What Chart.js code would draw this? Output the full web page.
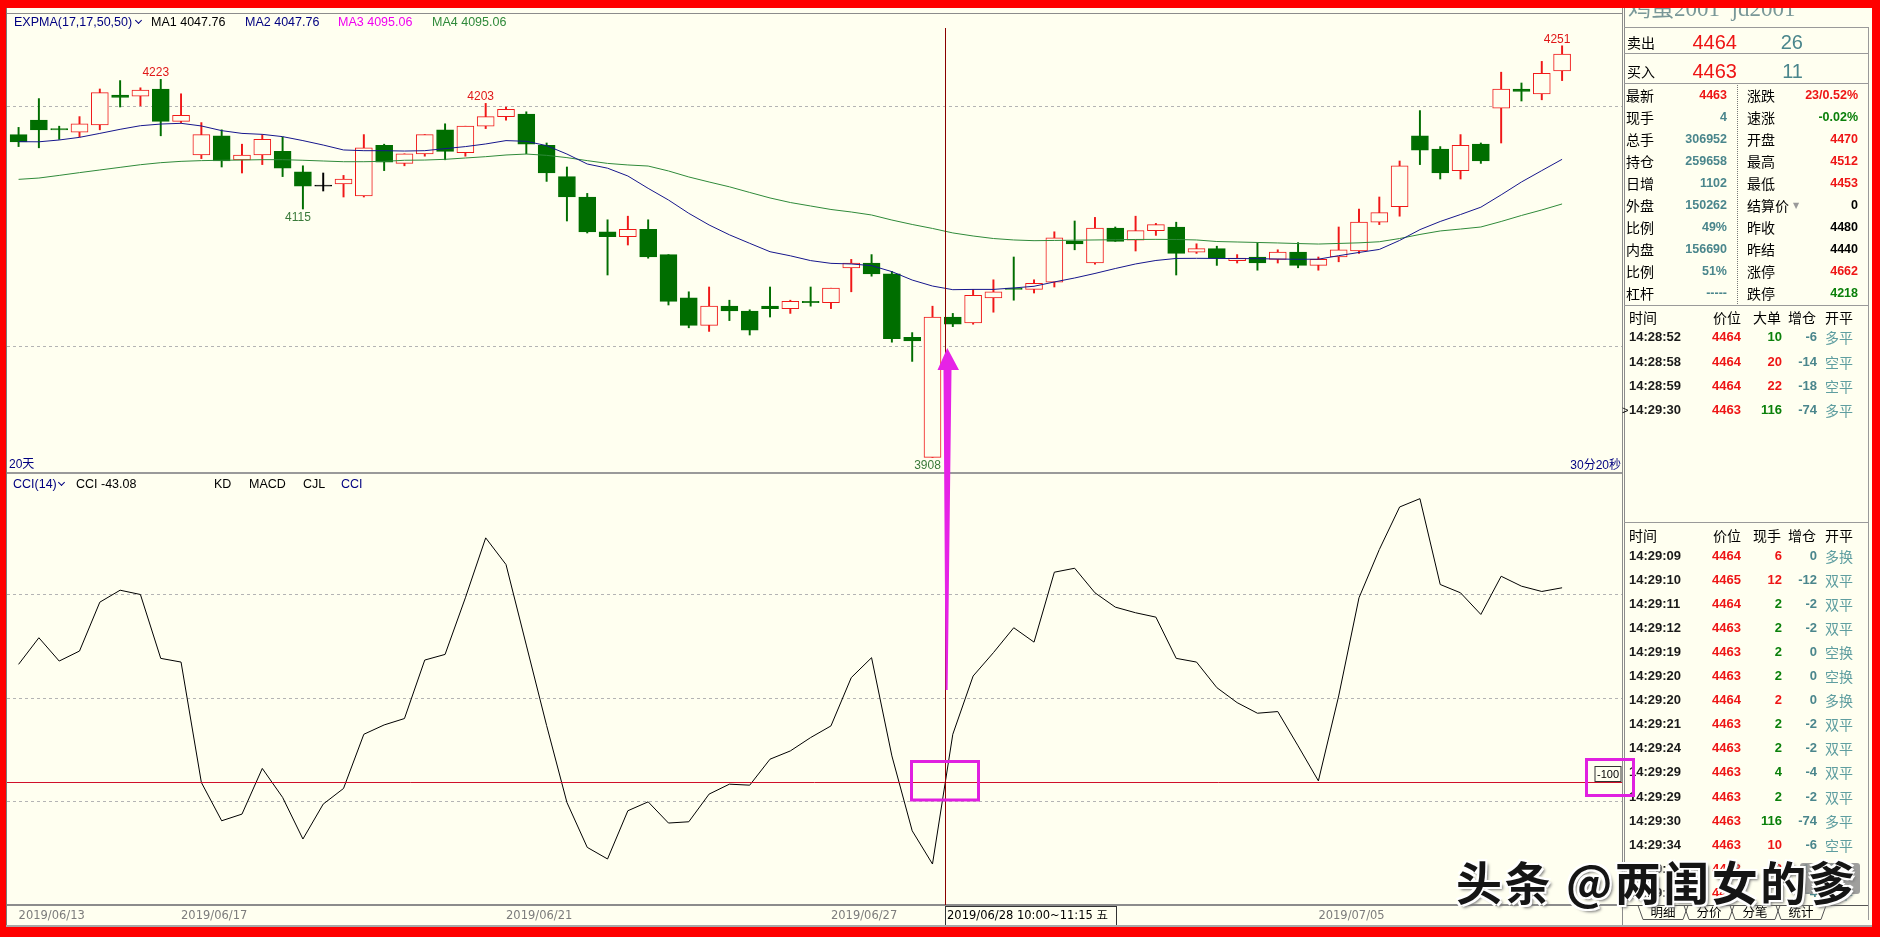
<!DOCTYPE html>
<html>
<head>
<meta charset="utf-8">
<title>鸡蛋2001 jd2001 60分钟 CCI</title>
<script src="https://cdn.jsdelivr.net/npm/chart.js@4.4.1/dist/chart.umd.min.js"></script>
<style>
  html, body { margin: 0; padding: 0; }
  body {
    width: 1880px; height: 937px; position: relative; overflow: hidden;
    background: #fffff0; font-family: "Liberation Sans", Arial, sans-serif;
  }
  canvas { position: absolute; }
  #price { left: 7px; top: 13px; }
  #cci { left: 7px; top: 473px; }
  .t { position: absolute; white-space: nowrap; }
  .ln { position: absolute; background: #8c8c8c; }
  .chev { position: absolute; width: 4px; height: 4px; border-right: 1.3px solid #000080; border-bottom: 1.3px solid #000080; transform: rotate(45deg); }
  .frame { position: absolute; background: #ff0000; z-index: 50; }
  #wm {
    position: absolute; left: 1456px; top: 850px; z-index: 30;
    font: bold 46px "Noto Sans CJK SC", sans-serif; line-height: 60px; color: #151515;
    letter-spacing: 2.5px;
    text-shadow: -2px -2px 0 #fff, 2px -2px 0 #fff, -2px 2px 0 #fff, 2px 2px 0 #fff, 3px 3px 3px #777;
    white-space: nowrap;
  }
  #wmbox { position: absolute; left: 1800px; top: 863px; width: 60px; height: 31px; background: #8e8e8e; opacity: 0.85; border-radius: 3px; z-index: 29; }
</style>
</head>
<body>
<canvas id="price" width="1615" height="460"></canvas>
<canvas id="cci" width="1615" height="452"></canvas>
<div id="ui"></div>

<svg style="position:absolute;left:0;top:0;z-index:20" width="1880" height="937">
  <g fill="none" stroke="#e020e0" stroke-width="3">
    <rect x="911.5" y="761.5" width="67" height="38.5"></rect>
    <rect x="1586.5" y="759.5" width="47" height="36"></rect>
  </g>
  <polygon fill="#e622e6" points="947.3,348 959,370 951.5,370 947.6,690 945.6,690 943.5,370 937.5,370"></polygon>
</svg>

<div id="wmbox"></div>
<div id="wm">头条 @两闺女的爹</div>

<div class="frame" style="left:0;top:0;width:1880px;height:8px"></div>
<div class="frame" style="left:0;top:0;width:6px;height:937px"></div>
<div class="frame" style="left:1872px;top:0;width:8px;height:937px"></div>
<div class="frame" style="left:0;top:927px;width:1880px;height:10px"></div>

<script>
// 鸡蛋2001 (jd2001) 60分钟K线, 2019/06/13 - 2019/07/10

const opens  = [4177, 4189, 4182, 4179, 4185, 4210, 4209, 4215, 4188, 4160,
                4176, 4156, 4160, 4163, 4146, 4134, 4136, 4126, 4168, 4153,
                4161, 4181, 4162, 4184, 4192, 4194, 4168, 4142, 4125, 4096,
                4092, 4098, 4077, 4041, 4018, 4034, 4030, 4034, 4032, 4038,
                4037, 4066, 4070, 4061, 4008, 3908, 4025, 4020, 4041, 4049,
                4048, 4054, 4088, 4070, 4099, 4089, 4097, 4100, 4079, 4082,
                4072, 4075, 4073, 4079, 4068, 4075, 4080, 4104, 4117, 4176,
                4165, 4147, 4169, 4199, 4215, 4211, 4230];
const highs  = [4183, 4207, 4184, 4192, 4215, 4222, 4216, 4223, 4211, 4187,
                4181, 4169, 4177, 4175, 4151, 4145, 4143, 4177, 4169, 4161,
                4177, 4186, 4184, 4203, 4200, 4196, 4170, 4150, 4128, 4106,
                4109, 4106, 4077, 4046, 4050, 4039, 4031, 4050, 4039, 4050,
                4049, 4073, 4077, 4063, 4012, 4034, 4028, 4048, 4056, 4075,
                4056, 4096, 4105, 4108, 4100, 4109, 4103, 4104, 4086, 4084,
                4077, 4087, 4081, 4087, 4075, 4100, 4115, 4125, 4155, 4197,
                4167, 4177, 4170, 4229, 4220, 4238, 4251];
const lows   = [4167, 4166, 4173, 4175, 4181, 4200, 4201, 4176, 4187, 4157,
                4150, 4145, 4152, 4142, 4115, 4130, 4125, 4125, 4147, 4151,
                4159, 4156, 4159, 4182, 4189, 4161, 4138, 4105, 4095, 4060,
                4085, 4074, 4035, 4016, 4013, 4022, 4010, 4025, 4028, 4034,
                4032, 4046, 4059, 4004, 3988, 3908, 4017, 4019, 4029, 4039,
                4045, 4050, 4081, 4069, 4088, 4080, 4093, 4060, 4078, 4068,
                4070, 4064, 4070, 4066, 4064, 4071, 4078, 4102, 4109, 4152,
                4140, 4140, 4153, 4170, 4205, 4206, 4222];
const closes = [4171, 4181, 4181, 4186, 4212, 4208, 4214, 4188, 4193, 4177,
                4155, 4160, 4173, 4149, 4134, 4134, 4140, 4166, 4154, 4161,
                4177, 4163, 4184, 4192, 4198, 4169, 4145, 4125, 4096, 4092,
                4098, 4075, 4038, 4018, 4034, 4030, 4014, 4032, 4038, 4037,
                4049, 4070, 4061, 4007, 4005, 4025, 4019, 4043, 4046, 4048,
                4053, 4091, 4086, 4099, 4088, 4097, 4102, 4078, 4082, 4074,
                4074, 4070, 4079, 4068, 4073, 4081, 4104, 4112, 4151, 4164,
                4145, 4168, 4155, 4215, 4213, 4228, 4244];

// EXPMA(17) (MA1/MA2) and EXPMA(50) (MA3/MA4)
const expma17 = [4171.1, 4171.0, 4172.5, 4174.7, 4178.0, 4181.4, 4184.4, 4185.8, 4186.4, 4184.2,
                 4180.3, 4178.0, 4177.2, 4175.3, 4172.0, 4168.3, 4164.2, 4163.6, 4163.6, 4163.3,
                 4163.6, 4165.3, 4167.0, 4169.2, 4172.0, 4171.4, 4167.8, 4160.8, 4152.5, 4149.0,
                 4142.5, 4132.2, 4122.5, 4111.4, 4101.7, 4093.5, 4086.4, 4079.4, 4076.0, 4072.0,
                 4069.7, 4069.2, 4067.8, 4062.8, 4055.8, 4050.8, 4047.76, 4048.0, 4048.0, 4049.2,
                 4050.6, 4054.2, 4057.5, 4061.3, 4065.4, 4069.2, 4072.1, 4073.8, 4073.9, 4073.8,
                 4073.7, 4073.6, 4073.3, 4073.1, 4073.2, 4076.1, 4078.8, 4081.3, 4088.8, 4097.8,
                 4104.6, 4110.4, 4116.5, 4126.8, 4137.5, 4147.0, 4156.4];
const expma50 = [4139.7, 4140.8, 4143.0, 4145.3, 4147.5, 4149.7, 4151.9, 4153.6, 4154.7, 4155.3,
                 4155.6, 4155.8, 4156.1, 4156.1, 4155.6, 4155.0, 4154.4, 4154.4, 4154.7, 4155.6,
                 4155.8, 4156.4, 4157.5, 4158.6, 4160.0, 4160.8, 4159.7, 4157.8, 4155.3, 4153.0,
                 4151.7, 4150.8, 4146.7, 4141.7, 4137.5, 4133.5, 4128.8, 4124.2, 4120.4, 4117.5,
                 4114.6, 4112.5, 4110.0, 4105.8, 4102.1, 4098.8, 4095.06, 4092.5, 4090.4, 4089.2,
                 4088.6, 4088.8, 4089.0, 4089.2, 4089.4, 4089.6, 4089.7, 4089.6, 4089.2, 4087.9,
                 4087.5, 4087.1, 4086.7, 4086.2, 4085.8, 4086.3, 4086.8, 4087.7, 4090.4, 4093.8,
                 4096.7, 4098.3, 4100.0, 4104.6, 4109.6, 4114.2, 4119.2];

// CCI(14)
const cci14 = [40.0, 71.6, 43.9, 55.8, 113.9, 128.1, 123.0, 47.1, 42.7, -100.4,
               -145.9, -138.0, -83.7, -118.1, -167.6, -126.1, -107.5, -43.1, -32.0, -24.4,
               45.1, 51.8, 119.1, 190.3, 158.6, 62.9, -32.7, -124.1, -177.5, -191.3,
               -134.0, -123.4, -148.6, -147.1, -114.2, -102.4, -103.6, -72.7, -62.9, -47.0,
               -33.2, 24.2, 47.9, -68.8, -157.8, -197.3, -43.08, 26.1, 53.9, 83.5,
               66.4, 149.5, 154.2, 125.0, 108.0, 101.3, 96.1, 47.1, 42.7, 12.3,
               -5.5, -18.1, -16.1, -56.9, -98.5, 2.4, 119.1, 176.4, 227.0, 236.9,
               134.9, 125.0, 99.3, 144.7, 132.9, 126.6, 131.0];

// time axis labels (first bar of the day)
const dayStart  = [0, 8, 24, 40, 64];
const dayLabels = ['2019/06/13', '2019/06/17', '2019/06/21', '2019/06/27', '2019/07/05'];

// price lines and marked extremes
const priceGrid = [4000, 4200];
const highMarks = [7, 23, 76];
const lowMarks  = [14, 45];

// crosshair
const crossAt = 45.6;
const crossLabel = '2019/06/28 10:00~11:15 五';
const crossCci = -100;

// right panel
const quoteRows = [
  ['最新', '4463', 'r', '涨跌', '23/0.52%', 'r'],
  ['现手', '4', 't', '速涨', '-0.02%', 'g'],
  ['总手', '306952', 't', '开盘', '4470', 'r'],
  ['持仓', '259658', 't', '最高', '4512', 'r'],
  ['日增', '1102', 't', '最低', '4453', 'r'],
  ['外盘', '150262', 't', '结算价', '0', 'k'],
  ['比例', '49%', 't', '昨收', '4480', 'k'],
  ['内盘', '156690', 't', '昨结', '4440', 'k'],
  ['比例', '51%', 't', '涨停', '4662', 'r'],
  ['杠杆', '-----', 't', '跌停', '4218', 'g']
];
const bigOrders = [
  ['14:28:52', '4464', '10', 'g', '-6', '多平'],
  ['14:28:58', '4464', '20', 'r', '-14', '空平'],
  ['14:28:59', '4464', '22', 'r', '-18', '空平'],
  ['14:29:30', '4463', '116', 'g', '-74', '多平']
];
const tickRows = [
  ['14:29:09', '4464', '6', 'r', '0', '多换'],
  ['14:29:10', '4465', '12', 'r', '-12', '双平'],
  ['14:29:11', '4464', '2', 'g', '-2', '双平'],
  ['14:29:12', '4463', '2', 'g', '-2', '双平'],
  ['14:29:19', '4463', '2', 'g', '0', '空换'],
  ['14:29:20', '4463', '2', 'g', '0', '空换'],
  ['14:29:20', '4464', '2', 'r', '0', '多换'],
  ['14:29:21', '4463', '2', 'g', '-2', '双平'],
  ['14:29:24', '4463', '2', 'g', '-2', '双平'],
  ['14:29:29', '4463', '4', 'g', '-4', '双平'],
  ['14:29:29', '4463', '2', 'g', '-2', '双平'],
  ['14:29:30', '4463', '116', 'g', '-74', '多平'],
  ['14:29:34', '4463', '10', 'r', '-6', '空平'],
  ['14:29:34', '4463', '22', 'r', '-18', '空平'],
  ['14:29:38', '4463', '4', 'r', '-4', '双平']
];
const tabNames = ['明细', '分价', '分笔', '统计'];

const BG = '#fffff0';
const UP = '#f01818';
const DOWN = '#006e00';
const FLAT = '#000000';
const SANS = '"Liberation Sans", Arial, sans-serif';
const CJK = '"Noto Sans CJK SC", sans-serif';
const MIX = '"Liberation Sans", "Noto Sans CJK SC", sans-serif';
const COLORS = { r: '#ee1515', g: '#0a800a', t: '#4a868c', k: '#000000' };

const X_MIN = -0.57, X_MAX = 78.95;
const CCI_RANGE = 246;
const crossIdx = Math.round(crossAt);
const idx = closes.map((_, i) => i);

Chart.defaults.font.family = SANS;

function candleColor(i) {
  if (closes[i] > opens[i]) return UP;
  if (closes[i] < opens[i]) return DOWN;
  return FLAT;
}

// ---- price panel ----
const priceMarks = {
  id: 'priceMarks',
  afterDatasetsDraw(chart) {
    const { ctx, chartArea, scales: { x, y } } = chart;
    ctx.save();
    ctx.font = '12px ' + SANS;
    ctx.textAlign = 'center';
    ctx.textBaseline = 'alphabetic';
    ctx.fillStyle = '#e01818';
    highMarks.forEach(i => {
      ctx.fillText(String(highs[i]), x.getPixelForValue(i) - 5, y.getPixelForValue(highs[i]) - 3);
    });
    ctx.fillStyle = '#3a7a3a';
    lowMarks.forEach(i => {
      ctx.fillText(String(lows[i]), x.getPixelForValue(i) - 5, y.getPixelForValue(lows[i]) + 12);
    });
    const cx = Math.round(x.getPixelForValue(crossAt)) + 0.5;
    ctx.strokeStyle = '#8a0000';
    ctx.lineWidth = 1;
    ctx.beginPath();
    ctx.moveTo(cx, 15);
    ctx.lineTo(cx, chartArea.bottom);
    ctx.stroke();
    ctx.restore();
  }
};

new Chart(document.getElementById('price'), {
  data: {
    datasets: [
      {
        type: 'bar',
        label: 'wick',
        data: idx.map(i => ({ x: i, y: [lows[i], highs[i]] })),
        backgroundColor: ctx => candleColor(ctx.dataIndex),
        borderWidth: 0,
        barThickness: 1.3,
        grouped: false,
        order: 3
      },
      {
        type: 'bar',
        label: 'body',
        data: idx.map(i => ({ x: i, y: [opens[i], closes[i]] })),
        backgroundColor: ctx => closes[ctx.dataIndex] > opens[ctx.dataIndex] ? BG : candleColor(ctx.dataIndex),
        borderColor: ctx => candleColor(ctx.dataIndex),
        borderWidth: 1,
        borderSkipped: false,
        barThickness: 17,
        minBarLength: 1,
        grouped: false,
        order: 2
      },
      {
        type: 'line',
        label: 'MA1',
        data: idx.map(i => ({ x: i, y: expma17[i] })),
        borderColor: '#16168c',
        borderWidth: 1,
        pointRadius: 0,
        tension: 0,
        order: 1
      },
      {
        type: 'line',
        label: 'MA3',
        data: idx.map(i => ({ x: i, y: expma50[i] })),
        borderColor: '#2f8a3a',
        borderWidth: 1,
        pointRadius: 0,
        tension: 0,
        order: 1
      }
    ]
  },
  options: {
    responsive: false,
    animation: false,
    events: [],
    layout: { padding: 0 },
    plugins: { legend: { display: false }, tooltip: { enabled: false } },
    scales: {
      x: { type: 'linear', min: X_MIN, max: X_MAX, offset: false, grid: { offset: false }, display: false },
      y: {
        min: 3895, max: 4278.33,
        ticks: { display: false },
        grid: { color: '#b4b4b4', drawTicks: false },
        border: { display: false, dash: [3, 3] },
        afterBuildTicks: s => { s.ticks = priceGrid.map(v => ({ value: v })); },
        afterFit: s => { s.width = 0; }
      }
    }
  },
  plugins: [priceMarks]
});

// ---- CCI panel ----
const cciMarks = {
  id: 'cciMarks',
  afterDatasetsDraw(chart) {
    const { ctx, chartArea: a, scales: { x, y } } = chart;
    const cx = Math.round(x.getPixelForValue(crossAt)) + 0.5;
    const hy = Math.round(y.getPixelForValue(crossCci)) + 0.5;
    ctx.save();
    ctx.lineWidth = 1;
    ctx.strokeStyle = '#d0102a';
    ctx.beginPath();
    ctx.moveTo(a.left, hy);
    ctx.lineTo(a.right, hy);
    ctx.stroke();
    ctx.strokeStyle = '#8a0000';
    ctx.beginPath();
    ctx.moveTo(cx, 0);
    ctx.lineTo(cx, a.bottom);
    ctx.stroke();
    // value tag at the right end of the cross line
    ctx.fillStyle = BG;
    ctx.fillRect(a.right - 27, hy - 16, 26, 15);
    ctx.strokeStyle = '#333';
    ctx.strokeRect(a.right - 27, hy - 16, 26, 15);
    ctx.fillStyle = '#000';
    ctx.font = '11px ' + SANS;
    ctx.textAlign = 'center';
    ctx.textBaseline = 'middle';
    ctx.fillText(String(crossCci), a.right - 14, hy - 8);
    ctx.restore();
  },
  afterDraw(chart) {
    const { ctx, chartArea: a, scales: { x } } = chart;
    const cx = Math.round(x.getPixelForValue(crossAt)) + 0.5;
    ctx.save();
    ctx.fillStyle = BG;
    ctx.fillRect(cx, a.bottom + 1, 171, 19);
    ctx.strokeStyle = '#333';
    ctx.lineWidth = 1;
    ctx.strokeRect(cx, a.bottom + 1.5, 171, 19);
    ctx.fillStyle = '#000';
    ctx.font = '11.5px "DejaVu Sans", "Noto Sans CJK SC", sans-serif';
    ctx.textBaseline = 'middle';
    ctx.fillText(crossLabel, cx + 1.5, a.bottom + 11);
    ctx.restore();
  }
};

new Chart(document.getElementById('cci'), {
  type: 'line',
  data: {
    datasets: [{
      label: 'CCI',
      data: idx.map(i => ({ x: i, y: cci14[i] })),
      borderColor: '#000',
      borderWidth: 1,
      pointRadius: 0,
      tension: 0
    }]
  },
  options: {
    responsive: false,
    animation: false,
    events: [],
    layout: { padding: { top: 18, left: 0, right: 0, bottom: 0 } },
    plugins: { legend: { display: false }, tooltip: { enabled: false } },
    scales: {
      x: {
        type: 'linear', min: X_MIN, max: X_MAX, position: 'bottom', offset: false,
        grid: { display: false, drawTicks: false },
        border: { display: true, color: '#8c8c8c', width: 2 },
        ticks: {
          align: 'start', autoSkip: false, maxRotation: 0, padding: 4,
          color: '#7c7c7c',
          font: { family: '"DejaVu Sans", sans-serif', size: 11.5 },
          callback: v => {
            const k = dayStart.indexOf(v);
            return k >= 0 ? dayLabels[k] : '';
          }
        },
        afterBuildTicks: s => { s.ticks = dayStart.map(v => ({ value: v })); },
        afterFit: s => { s.height = 20; }
      },
      y: {
        min: -CCI_RANGE, max: CCI_RANGE,
        ticks: { display: false },
        grid: { color: '#b4b4b4', drawTicks: false },
        border: { display: false, dash: [3, 3] },
        afterBuildTicks: s => { s.ticks = [s.max / 2, 0, s.min / 2].map(v => ({ value: v })); },
        afterFit: s => { s.width = 0; }
      }
    }
  },
  plugins: [cciMarks]
});

// ---- text and frame lines ----
const ui = document.getElementById('ui');

function txt(s, x, y, opt) {
  opt = opt || {};
  const size = opt.size || 12;
  const h = Math.round(size * 1.4);
  const el = document.createElement('div');
  el.className = 't';
  el.textContent = s;
  el.style.font = (opt.weight || 'normal') + ' ' + size + 'px ' + (opt.family || MIX);
  el.style.lineHeight = h + 'px';
  el.style.top = (y - h / 2) + 'px';
  if (opt.align === 'right') el.style.right = (1880 - x) + 'px';
  else el.style.left = x + 'px';
  el.style.color = opt.color || '#000';
  ui.appendChild(el);
  return el;
}

function line(x, y, w, h, color) {
  const el = document.createElement('div');
  el.className = 'ln';
  el.style.left = x + 'px';
  el.style.top = y + 'px';
  el.style.width = w + 'px';
  el.style.height = h + 'px';
  if (color) el.style.background = color;
  ui.appendChild(el);
}

function chevron(x, y) {
  const el = document.createElement('div');
  el.className = 'chev';
  el.style.left = x + 'px';
  el.style.top = y + 'px';
  ui.appendChild(el);
}

// chart frame
line(6, 8, 1, 917, '#7a7a7a');
line(7, 13, 1616, 1, '#8c8c8c');
line(7, 472, 1616, 2, '#9a9a9a');
line(1622, 8, 1, 917, '#8c8c8c');
line(6, 925, 1866, 2, '#a8a8a8');

// price header
const hdrSize = 12.5;
txt('EXPMA(17,17,50,50)', 14, 22, { color: '#000080', size: hdrSize, family: SANS });
chevron(136, 18);
txt('MA1 ' + expma17[crossIdx].toFixed(2), 151, 22, { color: '#000', size: hdrSize, family: SANS });
txt('MA2 ' + expma17[crossIdx].toFixed(2), 245, 22, { color: '#000080', size: hdrSize, family: SANS });
txt('MA3 ' + expma50[crossIdx].toFixed(2), 338, 22, { color: '#f000f0', size: hdrSize, family: SANS });
txt('MA4 ' + expma50[crossIdx].toFixed(2), 432, 22, { color: '#2f8a3a', size: hdrSize, family: SANS });
txt('20天', 9, 464, { color: '#000080', size: 12 });
txt('30分20秒', 1621, 465, { color: '#000080', size: 12, align: 'right' });

// CCI header
txt('CCI(14)', 13, 484, { color: '#000080', size: hdrSize, family: SANS });
chevron(59, 480);
txt('CCI ' + cci14[crossIdx].toFixed(2), 76, 484, { size: hdrSize, family: SANS });
txt('KD', 214, 484, { size: hdrSize, family: SANS });
txt('MACD', 249, 484, { size: hdrSize, family: SANS });
txt('CJL', 303, 484, { size: hdrSize, family: SANS });
txt('CCI', 341, 484, { color: '#000080', size: hdrSize, family: SANS });

// right panel frame
line(1624, 8, 1, 897, '#8c8c8c');
line(1868, 27, 1, 893, '#9a9a9a');
[27, 53, 83, 305, 522].forEach(y => line(1624, y, 245, 1, '#9a9a9a'));
const dots = document.createElement('div');
dots.style.cssText = 'position:absolute;left:1737px;top:85px;height:219px;border-left:1px dotted #777;';
ui.appendChild(dots);

// title and best bid/ask
const title = txt('鸡蛋2001  jd2001', 1628, 9, { size: 23, color: '#7a9898', family: '"Liberation Serif", "Noto Sans CJK SC", serif' });
title.style.whiteSpace = 'pre';
txt('卖出', 1627, 42, { size: 14, family: CJK });
txt('4464', 1737, 42, { size: 20, color: '#ee1515', align: 'right', family: SANS });
txt('26', 1803, 42, { size: 20, color: '#4a868c', align: 'right', family: SANS });
txt('买入', 1627, 71, { size: 14, family: CJK });
txt('4463', 1737, 71, { size: 20, color: '#ee1515', align: 'right', family: SANS });
txt('11', 1803, 71, { size: 20, color: '#4a868c', align: 'right', family: SANS });

// quote table
quoteRows.forEach((r, k) => {
  const y = 95 + 22.04 * k;
  txt(r[0], 1626, y, { size: 14, family: CJK });
  txt(r[1], 1727, y, { size: 12.5, weight: 'bold', color: COLORS[r[2]], align: 'right', family: SANS });
  txt(r[3], 1747, y, { size: 14, family: CJK });
  txt(r[4], 1858, y, { size: 12.5, weight: 'bold', color: COLORS[r[5]], align: 'right', family: SANS });
});
txt('▼', 1793, 205, { size: 8, color: '#9a9a9a', family: '"DejaVu Sans", sans-serif' });

// trade lists
function tradeTable(headY, rows, y0, step, qtyHead) {
  txt('时间', 1629, headY, { size: 14, family: CJK });
  txt('价位', 1713, headY, { size: 14, family: CJK });
  txt(qtyHead, 1753, headY, { size: 14, family: CJK });
  txt('增仓', 1788, headY, { size: 14, family: CJK });
  txt('开平', 1825, headY, { size: 14, family: CJK });
  rows.forEach((r, k) => {
    const y = y0 + step * k;
    txt(r[0], 1629, y, { size: 13, weight: 'bold', color: '#1a1a1a', family: SANS });
    txt(r[1], 1741, y, { size: 13, weight: 'bold', color: '#ee1515', align: 'right', family: SANS });
    txt(r[2], 1782, y, { size: 13, weight: 'bold', color: COLORS[r[3]], align: 'right', family: SANS });
    txt(r[4], 1817, y, { size: 13, weight: 'bold', color: '#4a868c', align: 'right', family: SANS });
    txt(r[5], 1825, y, { size: 14, color: '#5f9ea0', family: CJK });
  });
}
tradeTable(317, bigOrders, 337.3, 24.2, '大单');
txt('>', 1622, 410, { size: 11, family: SANS });
tradeTable(535, tickRows, 556, 24.05, '现手');

// tabs
const tabSvg = document.createElementNS('http://www.w3.org/2000/svg', 'svg');
tabSvg.setAttribute('width', '1880');
tabSvg.setAttribute('height', '937');
tabSvg.style.cssText = 'position:absolute;left:0;top:0;';
let tabPath = 'M1624,905.5 L1868,905.5 ';
tabNames.forEach((n, k) => {
  const x0 = 1638 + 46 * k, x1 = x0 + 50;
  tabPath += `M${x0},905.5 L${x0 + 5},919.5 L${x1 - 5},919.5 L${x1},905.5 `;
  txt(n, (x0 + x1) / 2 - 12.5, 912, { size: 12.5, family: CJK });
});
const p = document.createElementNS('http://www.w3.org/2000/svg', 'path');
p.setAttribute('d', tabPath);
p.setAttribute('fill', 'none');
p.setAttribute('stroke', '#555');
p.setAttribute('stroke-width', '1');
tabSvg.appendChild(p);
ui.appendChild(tabSvg);
</script>
</body>
</html>
